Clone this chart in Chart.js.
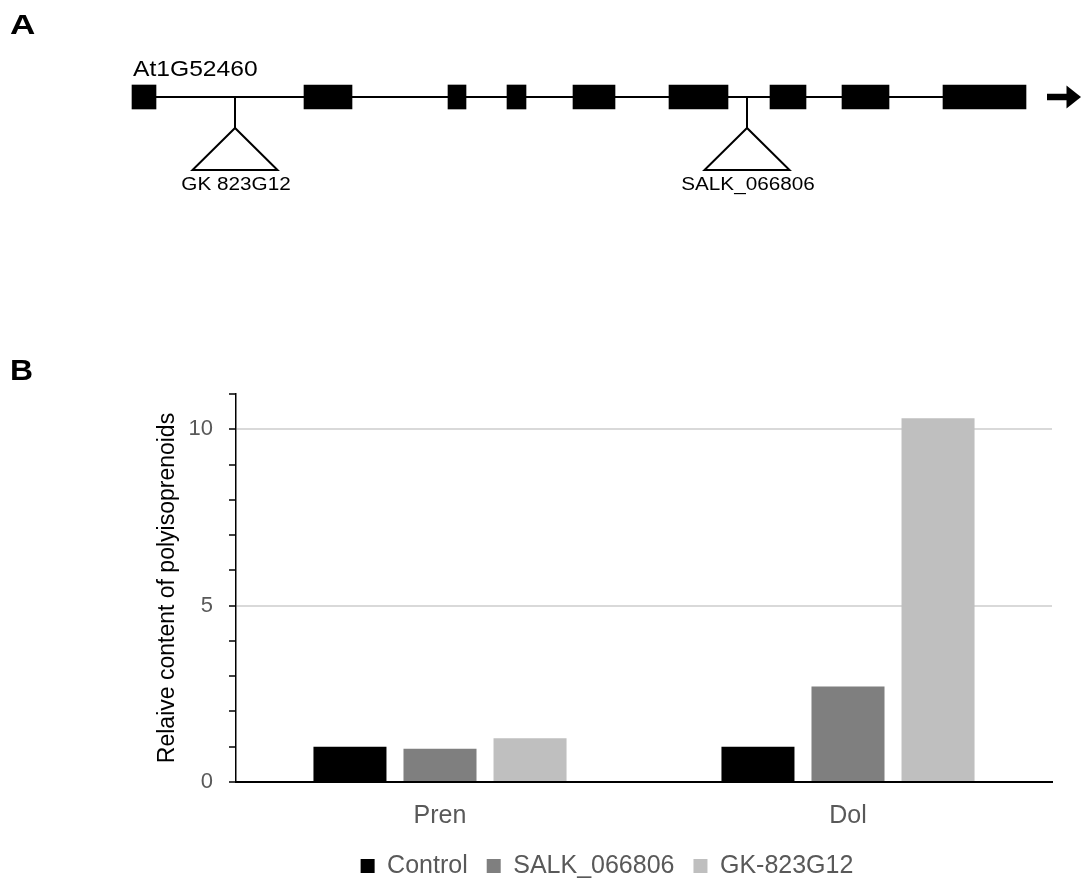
<!DOCTYPE html>
<html>
<head>
<meta charset="utf-8">
<title>At1G52460 mutants – polyisoprenoid content</title>
<script src="https://cdn.jsdelivr.net/npm/chart.js@4.4.1/dist/chart.umd.min.js"></script>
<style>
  html, body { margin: 0; padding: 0; background: #ffffff; overflow: hidden; width: 1081px; height: 883px; }
  #gene { position: absolute; left: 0; top: 0; }
  #bars { position: absolute; left: 0; top: 300px; }
</style>
</head>
<body>
<canvas id="gene" width="1081" height="200"></canvas>
<canvas id="bars" width="1081" height="600"></canvas>
<script>
// ---- Gene model (relative positions along the locus) ----
const geneName = 'At1G52460';
const exonStarts = [0, 172, 316, 375, 441, 537, 638, 710, 811];
const exonEnds   = [24, 220, 334, 394, 483, 596, 674, 757, 894];
const insertionNames = ['GK 823G12', 'SALK_066806'];
const insertionSites = [103, 615];

// ---- Polyisoprenoid content ----
const categories  = ['Pren', 'Dol'];
const seriesNames = ['Control', 'SALK_066806', 'GK-823G12'];
const controlValues = [1.0, 1.0];
const salkValues    = [0.94, 2.71];
const gkValues      = [1.24, 10.31];
const yTickLabels   = [0, 5, 10];

Chart.defaults.font.family = "'Liberation Sans', Arial, sans-serif";

// text drawn with a slight horizontal stretch
function stretchedText(ctx, text, x, y, size, sx, align, weight) {
  ctx.save();
  ctx.font = (weight || 'normal') + ' ' + size + "px 'Liberation Sans', Arial, sans-serif";
  ctx.textAlign = align;
  ctx.textBaseline = 'alphabetic';
  ctx.fillStyle = '#000';
  ctx.translate(x, y);
  ctx.scale(sx, 1);
  ctx.fillText(text, 0, 0);
  ctx.restore();
}

const geneModelPlugin = {
  id: 'geneModel',
  beforeDatasetsDraw(chart) {
    const { ctx, scales: { x, y } } = chart;
    const yc = y.getPixelForValue(0);
    const x0 = x.getPixelForValue(exonStarts[0]);
    const x1 = x.getPixelForValue(exonEnds[exonEnds.length - 1]);
    ctx.save();
    ctx.strokeStyle = '#000';
    ctx.lineWidth = 2;
    ctx.beginPath();
    ctx.moveTo(x0, yc);
    ctx.lineTo(x1, yc);
    ctx.stroke();
    ctx.restore();
  },
  afterDatasetsDraw(chart) {
    const { ctx, scales: { x, y } } = chart;
    const yc = y.getPixelForValue(0);
    const x0 = x.getPixelForValue(exonStarts[0]);
    const x1 = x.getPixelForValue(exonEnds[exonEnds.length - 1]);

    // T-DNA insertions
    insertionSites.forEach((site, i) => {
      const xi = x.getPixelForValue(site);
      ctx.save();
      ctx.strokeStyle = '#000';
      ctx.lineWidth = 2;
      ctx.beginPath();
      ctx.moveTo(xi, yc);
      ctx.lineTo(xi, yc + 31);
      ctx.stroke();
      ctx.beginPath();
      ctx.moveTo(xi, yc + 31);
      ctx.lineTo(xi - 42.5, yc + 73);
      ctx.lineTo(xi + 42.5, yc + 73);
      ctx.closePath();
      ctx.fillStyle = '#fff';
      ctx.fill();
      ctx.stroke();
      ctx.restore();
      stretchedText(ctx, insertionNames[i], xi + 1, yc + 93, 18, 1.15, 'center');
    });

    // gene name
    stretchedText(ctx, geneName, x0 + 1, yc - 21, 22, 1.12, 'left');

    // direction of transcription
    ctx.save();
    ctx.strokeStyle = '#000';
    ctx.fillStyle = '#000';
    ctx.lineWidth = 6.5;
    ctx.beginPath();
    ctx.moveTo(x1 + 21, yc);
    ctx.lineTo(x1 + 42, yc);
    ctx.stroke();
    ctx.beginPath();
    ctx.moveTo(x1 + 40.5, yc - 11.5);
    ctx.lineTo(x1 + 55, yc);
    ctx.lineTo(x1 + 40.5, yc + 11.5);
    ctx.closePath();
    ctx.fill();
    ctx.restore();

    // panel letter
    stretchedText(ctx, 'A', 10, 34, 27, 1.3, 'left', 'bold');
  }
};

new Chart(document.getElementById('gene'), {
  type: 'bar',
  data: {
    labels: [geneName],
    datasets: [{
      label: geneName,
      data: exonStarts.map((s, i) => ({ y: geneName, x: [s, exonEnds[i]] })),
      backgroundColor: '#000000',
      borderWidth: 0,
      barThickness: 24
    }]
  },
  options: {
    responsive: false,
    animation: false,
    indexAxis: 'y',
    layout: { padding: { top: 0, bottom: 6, left: 0, right: 0 } },
    plugins: { legend: { display: false }, tooltip: { enabled: false } },
    scales: {
      x: { type: 'linear', display: false, min: -132, max: 949 },
      y: { display: false }
    }
  },
  plugins: [geneModelPlugin]
});

// panel letter and legend placement for the bar chart
const barPanelExtras = {
  id: 'barPanelExtras',
  afterLayout(chart) {
    const lg = chart.legend;
    if (lg) {
      const dx = 607 - (lg.left + lg.right) / 2;
      lg.left += dx;
      lg.right += dx;
    }
  },
  afterDraw(chart) {
    stretchedText(chart.ctx, 'B', 10, 80, 29, 1.1, 'left', 'bold');
  }
};

const showTick = v => yTickLabels.includes(v);

new Chart(document.getElementById('bars'), {
  type: 'bar',
  data: {
    labels: categories,
    datasets: [
      { label: seriesNames[0], data: controlValues, backgroundColor: '#000000', borderWidth: 0 },
      { label: seriesNames[1], data: salkValues,    backgroundColor: '#7f7f7f', borderWidth: 0 },
      { label: seriesNames[2], data: gkValues,      backgroundColor: '#bfbfbf', borderWidth: 0 }
    ]
  },
  options: {
    responsive: false,
    animation: false,
    categoryPercentage: 0.662,
    barPercentage: 0.811,
    layout: { padding: { top: 94, right: 29, left: 0, bottom: 11.5 } },
    plugins: {
      tooltip: { enabled: false },
      legend: {
        position: 'bottom',
        labels: {
          boxWidth: 14,
          boxHeight: 14,
          padding: 19,
          color: '#595959',
          font: { size: 25 }
        }
      }
    },
    scales: {
      x: {
        grid: { display: false, drawTicks: false },
        border: { display: true, color: '#000000', width: 2 },
        ticks: { color: '#595959', font: { size: 25 }, padding: 19 },
        afterFit(scale) { scale.height = 52.5; }
      },
      y: {
        min: 0,
        max: 11,
        ticks: {
          stepSize: 1,
          color: '#595959',
          font: { size: 22 },
          padding: 16,
          callback: v => (showTick(v) ? String(v) : '')
        },
        grid: {
          color: c => (c.tick && showTick(c.tick.value) && c.tick.value !== 0 ? '#d9d9d9' : 'rgba(0,0,0,0)'),
          lineWidth: 2,
          drawTicks: true,
          tickColor: '#000000',
          tickLength: 7,
          tickWidth: 1.5
        },
        border: { display: true, color: '#000000', width: 1.5 },
        title: {
          display: true,
          text: 'Relaive content of polyisoprenoids',
          color: '#000000',
          font: { size: 23 },
          padding: { top: 154, bottom: 0 }
        },
        afterFit(scale) { scale.width = 236; }
      }
    }
  },
  plugins: [barPanelExtras]
});
</script>
</body>
</html>
